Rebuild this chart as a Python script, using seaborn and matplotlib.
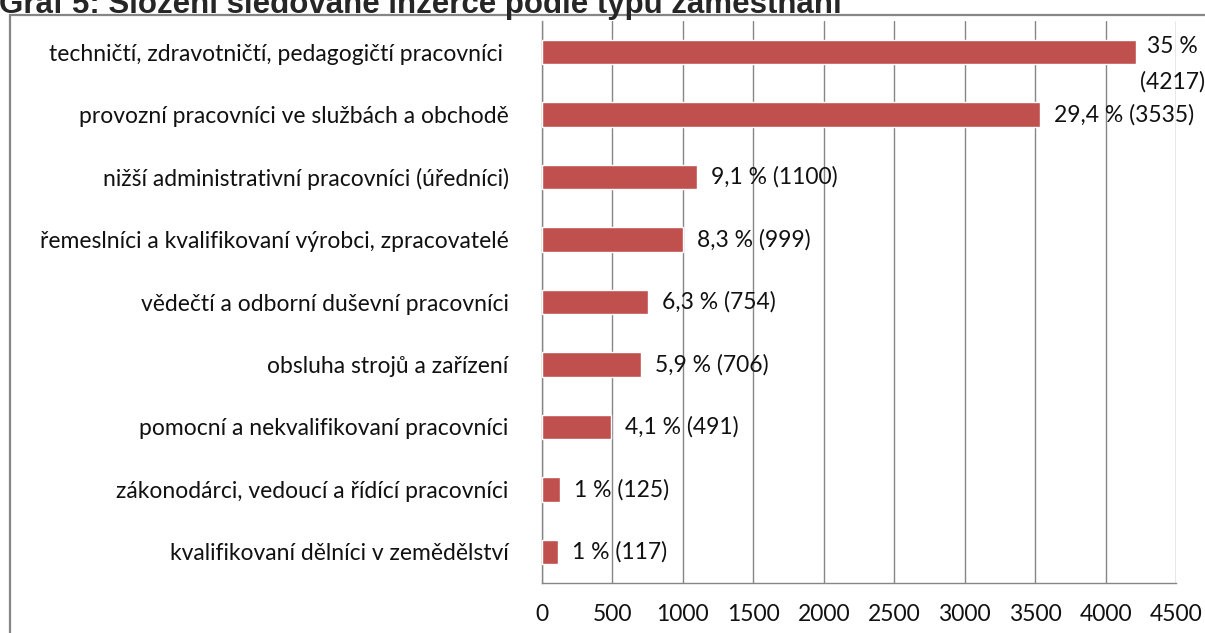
import matplotlib
matplotlib.use('Agg')
import matplotlib.pyplot as plt
import seaborn as sns
from matplotlib.patches import Rectangle

# data
categories = [
    'techničtí, zdravotničtí, pedagogičtí pracovníci ',
    'provozní pracovníci ve službách a obchodě',
    'nižší administrativní pracovníci (úředníci)',
    'řemeslníci a kvalifikovaní výrobci, zpracovatelé',
    'vědečtí a odborní duševní pracovníci',
    'obsluha strojů a zařízení',
    'pomocní a nekvalifikovaní pracovníci',
    'zákonodárci, vedoucí a řídící pracovníci',
    'kvalifikovaní dělníci v zemědělství',
]
counts = [4217, 3535, 1100, 999, 754, 706, 491, 125, 117]
percents = ['35 %', '29,4 %', '9,1 %', '8,3 %', '6,3 %', '5,9 %', '4,1 %', '1 %', '1 %']
title = 'Graf 5: Složení sledované inzerce podle typu zaměstnání'

sns.set_style('white')
plt.rcParams['font.family'] = ['Lato', 'DejaVu Sans']
fs = 16.5
txt = '#111111'
grey = '#868686'

fig = plt.figure(figsize=(12.05, 6.33), dpi=100)
ax = fig.add_axes([542/1205, 1 - 583/633, (1176 - 542)/1205, (583 - 21)/633])

# okraj grafu (vpravo a dole oříznutý jako v originále)
fig.patches.append(Rectangle((10/1205, -0.1), 1.2, 1 - 15/633 + 0.1, transform=fig.transFigure,
                             fill=False, edgecolor=grey, linewidth=1.6))

sns.barplot(x=counts, y=categories, orient='h', color='#C0504D', width=0.39,
            saturation=1, ax=ax, zorder=3)

ax.set_xlim(0, 4500)
ax.set_ylim(8.5, -0.5)
ax.set_xticks(range(0, 4501, 500))
ax.grid(axis='x', color=grey, linewidth=1)
ax.set_axisbelow(True)
for s in ['top', 'right']:
    ax.spines[s].set_visible(False)
for s in ['left', 'bottom']:
    ax.spines[s].set_color(grey)
    ax.spines[s].set_linewidth(1)

ax.tick_params(axis='y', length=0, pad=24, labelsize=fs, labelcolor=txt)
ax.set_yticks([i + 0.5 for i in range(-1, 9)], minor=True)
ax.tick_params(axis='y', which='minor', length=7, color=grey, direction='out')
ax.tick_params(axis='x', length=7, color=grey, direction='out', pad=8,
               labelsize=fs, labelcolor=txt)
ax.set_xlabel('')
ax.set_ylabel('')

# popisky hodnot
for i, (c, p) in enumerate(zip(counts, percents)):
    if i == 0:
        ax.annotate(p + '\n(' + str(c) + ')', (c, i), xytext=(3, 12), textcoords='offset points',
                    va='top', ha='left', multialignment='center', fontsize=fs, color=txt,
                    linespacing=1.8)
    else:
        ax.annotate(p + ' (' + str(c) + ')', (c, i), xytext=(10, 0), textcoords='offset points',
                    va='center', ha='left', fontsize=fs, color=txt)

fig.text(-1/1205, 1 - 13/633, title, fontsize=22.5, fontweight='bold',
         family='Liberation Sans', va='baseline', ha='left')

fig.savefig('out.png', dpi=100)
